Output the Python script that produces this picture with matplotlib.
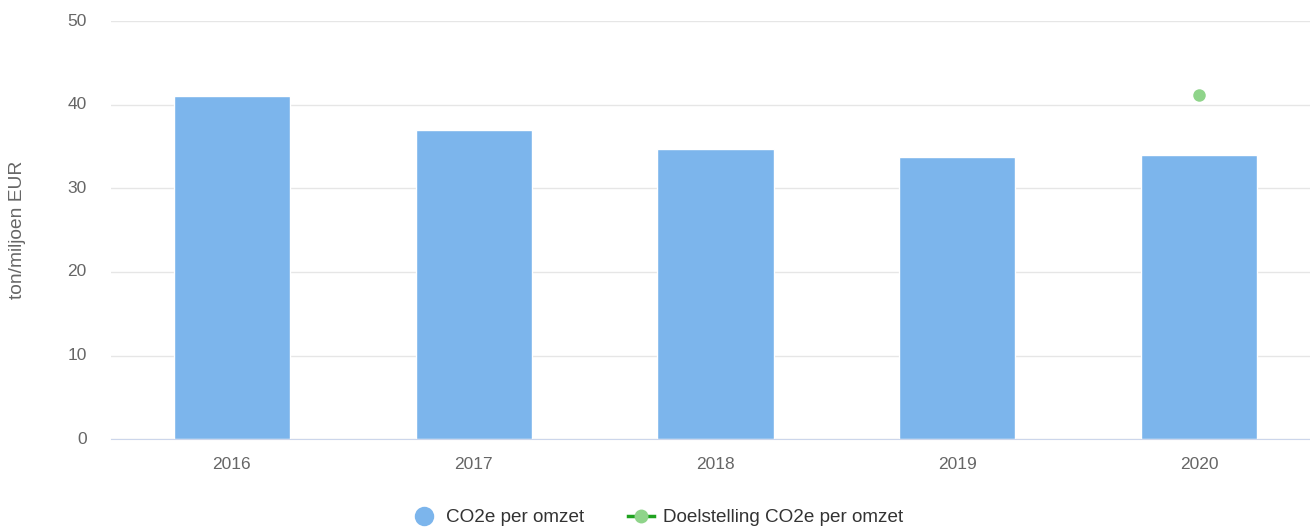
import matplotlib.pyplot as plt
from matplotlib.lines import Line2D
import numpy as np

plt.rcParams['font.family'] = ['Liberation Sans', 'DejaVu Sans']

years = ['2016', '2017', '2018', '2019', '2020']
co2_per_omzet = [41.0, 37.0, 34.7, 33.7, 34.0]
doel_years = ['2020']
doel_values = [41.2]

bar_color = '#7cb5ec'
dot_color = '#8fd48a'
line_color = '#1fa21f'

fig = plt.figure(figsize=(13.1, 5.27), dpi=100)
ax = fig.add_axes([111 / 1310, (527 - 439.3) / 527, (1320 - 111) / 1310, (439.3 - 21) / 527])

x = np.arange(len(years))
ax.bar(x, co2_per_omzet, width=0.48, color=bar_color, edgecolor='white', linewidth=1, zorder=2)
xd = [years.index(y) for y in doel_years]
ax.plot(xd, doel_values, 'o', color=dot_color, markersize=9, markeredgewidth=0, zorder=3)

ax.set_xlim(-0.5, len(years) - 0.5)
ax.set_ylim(0, 50)
ax.set_yticks(range(0, 51, 10))
ax.set_xticks(x)
ax.set_xticklabels(years)
ax.yaxis.grid(True, color='#e6e6e6', linewidth=1)
ax.set_axisbelow(True)
for s in ['top', 'right', 'left']:
    ax.spines[s].set_visible(False)
ax.spines['bottom'].set_color('#ccd6eb')
ax.tick_params(axis='both', length=0, labelsize=12.5, colors='#666666')
ax.tick_params(axis='x', pad=12.5)
ax.tick_params(axis='y', pad=17.5)
for lbl in ax.get_yticklabels():
    lbl.set_verticalalignment('center')

fig.text(18 / 1310, 1 - 230 / 527, 'ton/miljoen EUR', rotation=90, ha='center', va='center',
         fontsize=13.8, color='#666666')

handles = [
    Line2D([], [], marker='o', linestyle='none', color=bar_color, markersize=14, markeredgewidth=0),
    Line2D([], [], marker='o', linestyle='-', color=line_color, markerfacecolor=dot_color,
           markeredgewidth=0, markersize=10, linewidth=2.5),
]
fig.legend(handles, ['CO2e per omzet', 'Doelstelling CO2e per omzet'], loc='center',
           bbox_to_anchor=(657 / 1310, 1 - 517.5 / 527), ncol=2, frameon=False,
           fontsize=13.6, labelcolor='#333333', handlelength=1.4, handletextpad=0.45,
           columnspacing=2.3)

fig.savefig('out.png', dpi=100)
